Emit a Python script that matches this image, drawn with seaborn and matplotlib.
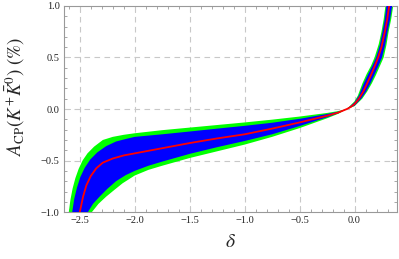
import numpy as np
import pandas as pd
from matplotlib import pyplot as plt
from matplotlib.ticker import MultipleLocator
import seaborn as sns

# curves: (delta, A_CP) pairs, from bottom edge to top edge
green_up_d = [-2.600, -2.585, -2.565, -2.540, -2.510, -2.475, -2.430, -2.370, -2.290, -2.200, -2.100,
              -2.000, -1.750, -1.500, -1.250, -1.000, -0.750, -0.500, -0.250, -0.150, -0.070,
              0.000, 0.030, 0.072, 0.110, 0.150, 0.182, 0.220, 0.245, 0.265, 0.281]
green_up_y = [-1.000, -0.880, -0.770, -0.670, -0.580, -0.500, -0.430, -0.365, -0.300, -0.270, -0.250,
              -0.235, -0.205, -0.180, -0.155, -0.130, -0.103, -0.073, -0.038, -0.020, 0.000,
              0.075, 0.130, 0.250, 0.340, 0.420, 0.500, 0.630, 0.750, 0.870, 1.000]

blue_up_d = [-2.569, -2.550, -2.525, -2.495, -2.455, -2.405, -2.340, -2.260, -2.170, -2.080,
             -2.000, -1.750, -1.500, -1.250, -1.000, -0.750, -0.500, -0.250, -0.150, -0.070,
             0.000, 0.040, 0.085, 0.125, 0.163, 0.196, 0.230, 0.255, 0.275, 0.290]
blue_up_y = [-1.000, -0.870, -0.760, -0.660, -0.570, -0.490, -0.420, -0.360, -0.315, -0.290,
             -0.270, -0.245, -0.218, -0.190, -0.163, -0.133, -0.095, -0.048, -0.026, 0.000,
             0.065, 0.130, 0.250, 0.340, 0.420, 0.500, 0.620, 0.750, 0.870, 1.000]

red_d = [-2.500, -2.470, -2.440, -2.400, -2.350, -2.290, -2.200, -2.100,
         -2.000, -1.750, -1.500, -1.250, -1.000, -0.750, -0.500, -0.250, -0.150, -0.070,
         -0.035, 0.000, 0.040, 0.080, 0.115, 0.150, 0.185, 0.215, 0.245, 0.276, 0.297, 0.315]
red_y = [-1.000, -0.850, -0.740, -0.650, -0.575, -0.520, -0.480, -0.450,
         -0.430, -0.380, -0.330, -0.285, -0.245, -0.190, -0.130, -0.065, -0.035, 0.000,
         0.020, 0.048, 0.100, 0.170, 0.250, 0.330, 0.420, 0.500, 0.600, 0.750, 0.870, 1.000]

blue_low_d = [-2.426, -2.380, -2.320, -2.250, -2.170, -2.080, -2.000, -1.875,
              -1.750, -1.500, -1.250, -1.000, -0.750, -0.500, -0.250, -0.150, -0.070,
              0.000, 0.060, 0.105, 0.145, 0.180, 0.218, 0.250, 0.278, 0.300, 0.323, 0.342]
blue_low_y = [-1.000, -0.920, -0.850, -0.775, -0.700, -0.640, -0.600, -0.550,
              -0.510, -0.435, -0.370, -0.310, -0.245, -0.165, -0.080, -0.042, 0.000,
              0.032, 0.100, 0.170, 0.250, 0.330, 0.420, 0.500, 0.620, 0.750, 0.870, 1.000]

green_low_d = [-2.390, -2.330, -2.260, -2.180, -2.110, -2.000, -1.875,
               -1.750, -1.500, -1.250, -1.000, -0.750, -0.500, -0.250, -0.150, -0.070,
               0.000, 0.070, 0.115, 0.158, 0.195, 0.232, 0.265, 0.290, 0.310, 0.333, 0.352]
green_low_y = [-1.000, -0.920, -0.850, -0.780, -0.720, -0.645, -0.590,
               -0.550, -0.475, -0.410, -0.345, -0.270, -0.185, -0.090, -0.047, 0.000,
               0.028, 0.100, 0.170, 0.250, 0.330, 0.420, 0.500, 0.620, 0.750, 0.870, 1.000]

x_ticks = [-2.5, -2.0, -1.5, -1.0, -0.5, 0.0]
y_ticks = [-1.0, -0.5, 0.0, 0.5, 1.0]

sns.set_style('ticks')
plt.rcParams['font.family'] = ['Liberation Serif', 'DejaVu Serif']
plt.rcParams['mathtext.fontset'] = 'stix'

fig = plt.figure(figsize=(3.99, 2.59), dpi=100)
ax = fig.add_axes([0.160, 0.181, 0.836, 0.796])

# bands: outer curve up the left side, back down the right side
ax.fill(green_up_d + green_low_d[::-1], green_up_y + green_low_y[::-1],
        color='#00ff00', lw=0, zorder=2)
ax.fill(blue_up_d + blue_low_d[::-1], blue_up_y + blue_low_y[::-1],
        color='#0000ff', lw=0, zorder=3)
red = pd.DataFrame({'delta': red_d, 'acp': red_y})
sns.lineplot(data=red, x='delta', y='acp', color='#ff0000', lw=1.3,
             sort=False, ax=ax, zorder=4)

ax.set_xlim(-2.645, 0.39)
ax.set_ylim(-1.0, 1.0)
ax.set_xticks(x_ticks)
ax.set_yticks(y_ticks)
ax.set_xticklabels([f'{t:.1f}'.replace('-', '\u2212') for t in x_ticks])
ax.set_yticklabels([f'{t:.1f}'.replace('-', '\u2212') for t in y_ticks])
ax.xaxis.set_minor_locator(MultipleLocator(0.1))
ax.yaxis.set_minor_locator(MultipleLocator(0.1))
ax.tick_params(which='both', direction='in', top=True, right=True,
               color='#999999', labelsize=7.5, labelcolor='#222222', pad=3)
ax.tick_params(which='major', length=4, width=0.7)
ax.tick_params(which='minor', length=2, width=0.6)
for s in ax.spines.values():
    s.set_color('#999999')
    s.set_linewidth(0.8)

for t in x_ticks:
    ax.axvline(t, color='#c8c8c8', lw=0.8, ls=(0, (5, 4)), zorder=1)
for t in [-0.5, 0.0, 0.5]:
    ax.axhline(t, color='#c8c8c8', lw=0.8, ls=(0, (5, 4)), zorder=1)

ax.set_xlabel(r'$\delta$', fontsize=14, labelpad=6)
ax.set_ylabel(r'$A_{\mathrm{CP}}(K^{+}\bar{K}^{0})\ (\%)$', fontsize=13.5)
ax.yaxis.set_label_coords(-0.11, 0.56)

plt.savefig('out.png', dpi=100)
